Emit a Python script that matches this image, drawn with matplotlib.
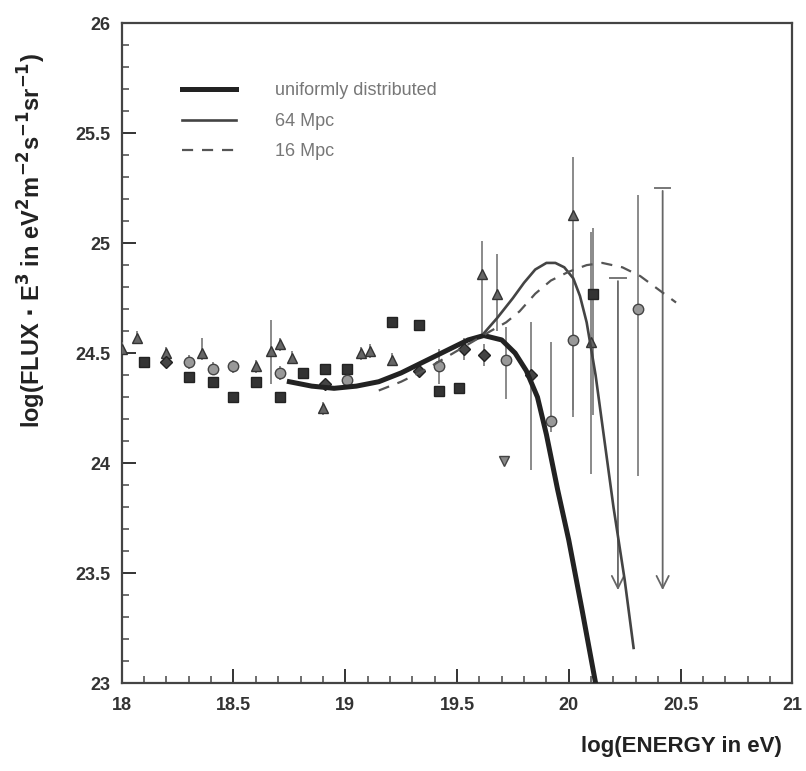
import numpy as np
import matplotlib
matplotlib.use("Agg")
import matplotlib.pyplot as plt
from matplotlib.ticker import MultipleLocator

plt.rcParams['font.family'] = ['Liberation Sans', 'DejaVu Sans']
plt.rcParams['mathtext.default'] = 'bf'

# model curves
uni_x = [18.75, 18.85, 18.95, 19.05, 19.15, 19.25, 19.35, 19.45, 19.55, 19.62,
         19.70, 19.76, 19.81, 19.86, 19.90, 19.95, 20.00, 20.06, 20.12]
uni_y = [24.37, 24.35, 24.34, 24.35, 24.37, 24.41, 24.46, 24.51, 24.56, 24.58,
         24.56, 24.50, 24.42, 24.30, 24.13, 23.88, 23.65, 23.33, 23.00]

mpc64_x = [19.62, 19.68, 19.75, 19.80, 19.85, 19.90, 19.94, 19.98, 20.02, 20.05,
           20.08, 20.12, 20.16, 20.20, 20.25, 20.29]
mpc64_y = [24.59, 24.66, 24.75, 24.82, 24.88, 24.91, 24.91, 24.89, 24.84, 24.76,
           24.64, 24.40, 24.10, 23.80, 23.47, 23.16]

mpc16_x = [19.15, 19.25, 19.35, 19.45, 19.55, 19.65, 19.72, 19.78, 19.85, 19.92,
           20.00, 20.08, 20.15, 20.24, 20.32, 20.40, 20.48]
mpc16_y = [24.33, 24.37, 24.42, 24.48, 24.54, 24.60, 24.64, 24.69, 24.77, 24.83,
           24.87, 24.90, 24.91, 24.89, 24.85, 24.79, 24.73]

# measured points
tri_x = [18.00, 18.07, 18.20, 18.36, 18.60, 18.67, 18.71, 18.76, 18.90, 19.07,
         19.11, 19.21, 19.61, 19.68, 20.02, 20.10]
tri_y = [24.52, 24.57, 24.50, 24.50, 24.44, 24.51, 24.54, 24.48, 24.25, 24.50,
         24.51, 24.47, 24.86, 24.77, 25.13, 24.55]
tri_lo = [0.03, 0.03, 0.03, 0.03, 0.03, 0.15, 0.03, 0.03, 0.03, 0.03,
          0.03, 0.03, 0.29, 0.17, 0.89, 0.60]
tri_hi = [0.03, 0.03, 0.03, 0.07, 0.03, 0.14, 0.03, 0.03, 0.03, 0.03,
          0.03, 0.03, 0.15, 0.18, 0.26, 0.50]

sq_x = [18.10, 18.30, 18.41, 18.50, 18.60, 18.71, 18.81, 18.91, 19.01, 19.21,
        19.33, 19.42, 19.51, 20.11]
sq_y = [24.46, 24.39, 24.37, 24.30, 24.37, 24.30, 24.41, 24.43, 24.43, 24.64,
        24.63, 24.33, 24.34, 24.77]
sq_lo = [0.02] * 13 + [0.55]
sq_hi = [0.02] * 13 + [0.30]

circ_x = [18.30, 18.41, 18.50, 18.71, 19.01, 19.42, 19.72, 19.92, 20.02, 20.31]
circ_y = [24.46, 24.43, 24.44, 24.41, 24.38, 24.44, 24.47, 24.19, 24.56, 24.70]
circ_lo = [0.03, 0.03, 0.03, 0.03, 0.03, 0.08, 0.18, 0.05, 0.35, 0.76]
circ_hi = [0.03, 0.03, 0.03, 0.03, 0.03, 0.08, 0.15, 0.36, 0.50, 0.52]

dia_x = [18.20, 18.91, 19.33, 19.53, 19.62, 19.83]
dia_y = [24.46, 24.36, 24.42, 24.52, 24.49, 24.40]
dia_lo = [0.02, 0.02, 0.03, 0.05, 0.05, 0.43]
dia_hi = [0.02, 0.02, 0.03, 0.05, 0.05, 0.24]

itri_x = [19.71]
itri_y = [24.01]

# upper limits
ul_x = [20.22, 20.42]
ul_top = [24.84, 25.25]
ul_bottom = [23.41, 23.41]

fig = plt.figure(figsize=(8.06, 7.71), dpi=100)
ax = fig.add_axes([0.151, 0.114, 0.832, 0.856])

ax.plot(uni_x, uni_y, color='#222222', lw=3.6, label='uniformly distributed', zorder=4)
ax.plot(mpc64_x, mpc64_y, color='#444444', lw=1.9, label='64 Mpc', zorder=4)
ax.plot(mpc16_x, mpc16_y, color='#555555', lw=1.6, ls=(0, (5, 4)), label='16 Mpc', zorder=4)

ebar = dict(ecolor='#777777', elinewidth=1.2, ls='none', zorder=3)
ax.errorbar(tri_x, tri_y, yerr=[tri_lo, tri_hi], fmt='^', ms=7.5,
            mfc='#666666', mec='#333333', **ebar)
ax.errorbar(sq_x, sq_y, yerr=[sq_lo, sq_hi], fmt='s', ms=7,
            mfc='#333333', mec='#222222', **ebar)
ax.errorbar(circ_x, circ_y, yerr=[circ_lo, circ_hi], fmt='o', ms=7.5,
            mfc='#999999', mec='#444444', **ebar)
ax.errorbar(dia_x, dia_y, yerr=[dia_lo, dia_hi], fmt='D', ms=6,
            mfc='#444444', mec='#222222', **ebar)
ax.plot(itri_x, itri_y, 'v', ms=7, mfc='#888888', mec='#444444', ls='none')

for x, top, bot in zip(ul_x, ul_top, ul_bottom):
    ax.plot([x - 0.035, x + 0.035], [top, top], color='#777777', lw=1.4)
    ax.annotate('', xy=(x, bot), xytext=(x, top),
                arrowprops=dict(arrowstyle='->', color='#666666', lw=1.3,
                                mutation_scale=22))

ax.set_xlim(18, 21)
ax.set_ylim(23, 26)
ax.xaxis.set_major_locator(MultipleLocator(0.5))
ax.xaxis.set_minor_locator(MultipleLocator(0.1))
ax.yaxis.set_major_locator(MultipleLocator(0.5))
ax.yaxis.set_minor_locator(MultipleLocator(0.1))
ax.xaxis.set_major_formatter(plt.FuncFormatter(lambda v, p: f'{v:g}'))
ax.yaxis.set_major_formatter(plt.FuncFormatter(lambda v, p: f'{v:g}'))
ax.tick_params(which='major', direction='in', length=10, width=1.4, labelsize=13,
               colors='#333333')
ax.tick_params(axis='x', which='major', pad=10)
ax.tick_params(axis='y', which='major', pad=8)
ax.tick_params(which='minor', direction='in', length=5, width=1.2, colors='#555555')
for lab in ax.get_xticklabels() + ax.get_yticklabels():
    lab.set_fontweight('bold')
for s in ax.spines.values():
    s.set_linewidth(1.6)
    s.set_color('#444444')

ax.set_xlabel('log(ENERGY in eV)', fontsize=16, fontweight='bold', color='#222222',
              labelpad=14)
ax.xaxis.set_label_coords(0.985, -0.08)
ax.xaxis.label.set_horizontalalignment('right')
ax.set_ylabel(r'log(FLUX $\bullet$ E$^{3}$ in eV$^{2}$m$^{-2}$s$^{-1}$sr$^{-1}$)',
              fontsize=17, fontweight='bold', color='#222222')
ax.yaxis.set_label_coords(-0.11, 0.67)

leg = ax.legend(loc='upper left', bbox_to_anchor=(0.065, 0.935), frameon=False,
                fontsize=13, handlelength=3.0, handletextpad=2.2, labelspacing=0.75)
for t in leg.get_texts():
    t.set_color('#777777')

fig.savefig('out.png', dpi=100)
